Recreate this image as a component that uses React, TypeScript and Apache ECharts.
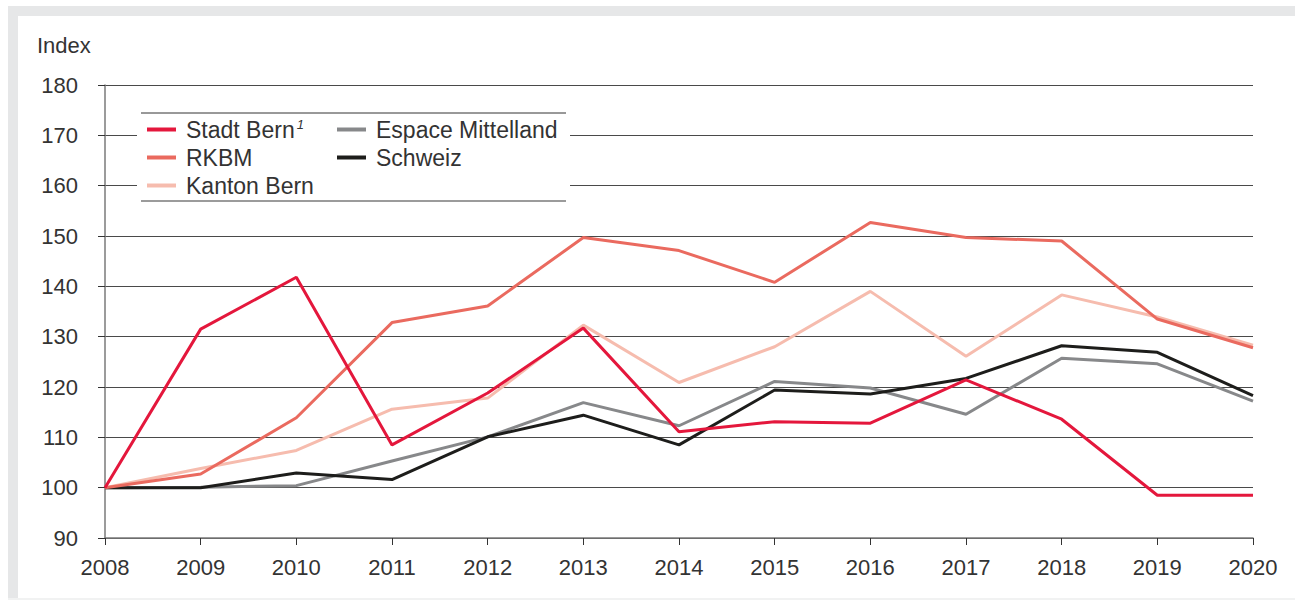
import React, { useEffect, useRef } from "react";
import * as echarts from "echarts";

const years = ["2008","2009","2010","2011","2012","2013","2014","2015","2016","2017","2018","2019","2020"];
const stadtBern = [100, 131.5, 141.8, 108.5, 118.8, 131.7, 111.1, 113.1, 112.8, 121.4, 113.6, 98.5, 98.5];
const rkbm = [100, 102.7, 113.9, 132.8, 136.1, 149.7, 147.1, 140.8, 152.7, 149.7, 149.0, 133.5, 127.8];
const kantonBern = [100, 103.8, 107.4, 115.6, 117.8, 132.3, 120.9, 128.0, 139.0, 126.1, 138.3, 133.9, 128.3];
const espaceMittelland = [100, 100.1, 100.4, 105.3, 110.1, 116.9, 112.3, 121.1, 119.8, 114.6, 125.7, 124.6, 117.2];
const schweiz = [100, 100.0, 102.9, 101.6, 110.1, 114.4, 108.5, 119.4, 118.6, 121.7, 128.2, 126.9, 118.3];
const yTicks = { min: 90, max: 180, interval: 10 };

const FONT = "'Liberation Sans', Arial, sans-serif";
const TXT = "#333333";

export default function App() {
  const ref = useRef<HTMLDivElement>(null);
  useEffect(() => {
    if (!ref.current) return;
    const chart = echarts.init(ref.current, null, { renderer: "svg" });
    const line = (name: string, data: number[], color: string) => ({
      name,
      type: "line",
      data,
      symbol: "none",
      lineStyle: { color, width: 3 },
      itemStyle: { color },
      z: 3,
    });
    const legendText = {
      fontFamily: FONT,
      fontSize: 23,
      color: TXT,
      padding: [0, 0, 0, 5],
      rich: {
        n: { fontFamily: FONT, fontSize: 23, color: TXT },
        s: { fontFamily: FONT, fontSize: 13, fontStyle: "italic", color: TXT, verticalAlign: "top", padding: [0, 0, 0, 2] },
      },
    };
    const fmt = (name: string) => (name === "Stadt Bern" ? "{n|Stadt Bern}{s|1}" : name);
    chart.setOption({
      animation: false,
      textStyle: { fontFamily: FONT },
      grid: { left: 105, right: 42, top: 85, bottom: 63, containLabel: false },
      xAxis: {
        type: "category",
        data: years,
        boundaryGap: false,
        axisLine: { lineStyle: { color: "#7a7a7a", width: 1.5 } },
        axisTick: { show: true, length: 7, lineStyle: { color: "#333" }, alignWithLabel: true },
        axisLabel: { fontFamily: FONT, fontSize: 22, color: TXT, margin: 18 },
        splitLine: { show: false },
      },
      yAxis: {
        type: "value",
        min: yTicks.min,
        max: yTicks.max,
        interval: yTicks.interval,
        axisLine: { show: true, lineStyle: { color: "#7a7a7a", width: 1.5 } },
        axisTick: { show: true, length: 7, lineStyle: { color: "#333" } },
        axisLabel: { fontFamily: FONT, fontSize: 22, color: TXT, margin: 27 },
        splitLine: { show: true, lineStyle: { color: "#4a4a4a", width: 1 } },
      },
      legend: [
        {
          data: ["Stadt Bern", "RKBM", "Kanton Bern"],
          orient: "vertical",
          left: 147,
          top: 118,
          padding: 0,
          itemGap: 5,
          itemWidth: 29,
          itemHeight: 4,
          icon: "rect",
          z: 100,
          formatter: fmt,
          textStyle: legendText,
        },
        {
          data: ["Espace Mittelland", "Schweiz"],
          orient: "vertical",
          left: 337,
          top: 118,
          padding: 0,
          itemGap: 5,
          itemWidth: 29,
          itemHeight: 4,
          icon: "rect",
          z: 100,
          textStyle: legendText,
        },
      ],
      graphic: [
        { type: "rect", z: -10, shape: { x: 8, y: 6, width: 1287, height: 10 }, style: { fill: "#e6e7e8" } },
        { type: "rect", z: -10, shape: { x: 8, y: 6, width: 10, height: 594 }, style: { fill: "#e6e7e8" } },
        { type: "rect", z: -10, shape: { x: 8, y: 598, width: 1287, height: 2 }, style: { fill: "#f1f2f2" } },
        { type: "rect", z: 50, shape: { x: 137, y: 112, width: 433, height: 90 }, style: { fill: "#ffffff" } },
        { type: "line", z: 51, shape: { x1: 141, y1: 113, x2: 566, y2: 113 }, style: { stroke: "#333", lineWidth: 1 } },
        { type: "line", z: 51, shape: { x1: 141, y1: 201, x2: 566, y2: 201 }, style: { stroke: "#7a7a7a", lineWidth: 1.5 } },
        {
          type: "text",
          z: 51,
          x: 37,
          y: 45,
          style: { text: "Index", fontFamily: FONT, fontSize: 22, fill: TXT, verticalAlign: "middle", align: "left" },
        },
      ],
      series: [
        line("Kanton Bern", kantonBern, "#f6bcae"),
        line("Espace Mittelland", espaceMittelland, "#87888a"),
        line("Schweiz", schweiz, "#1d1d1b"),
        line("RKBM", rkbm, "#ea6a5f"),
        line("Stadt Bern", stadtBern, "#e4173c"),
      ],
    });
    return () => chart.dispose();
  }, []);
  return (
    <div
      ref={ref}
      style={{ position: "absolute", left: 0, top: 0, width: 1295, height: 601, background: "#ffffff" }}
    />
  );
}
